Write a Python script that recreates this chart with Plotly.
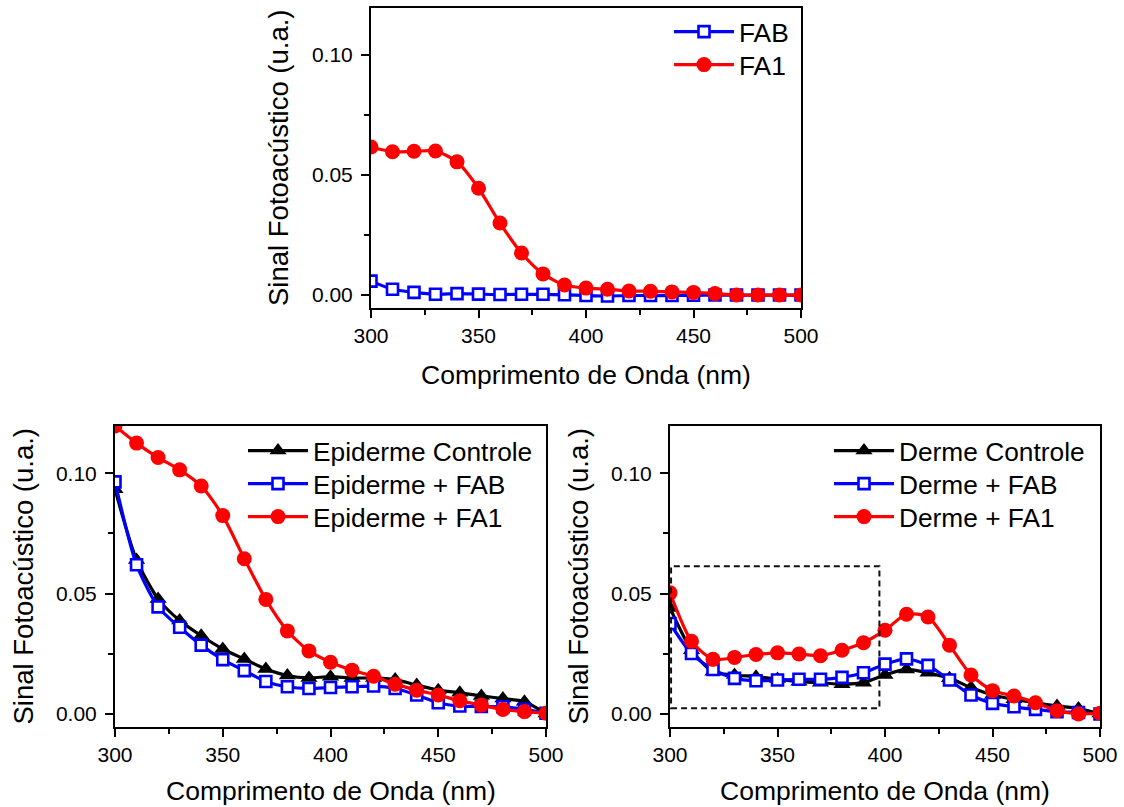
import plotly.graph_objects as go

# ---------------- data ----------------
wl = [300, 310, 320, 330, 340, 350, 360, 370, 380, 390, 400,
      410, 420, 430, 440, 450, 460, 470, 480, 490, 500]

# top panel
fab = [0.0058, 0.0024, 0.0011, 0.0003, 0.0006, 0.0004, 0.0002, 0.0003, 0.0003, 0.0001, -0.0002,
       -0.0004, -0.0002, -0.0002, -0.0002, -0.0001, 0.0, 0.0, 0.0, 0.0, 0.0]
fa1 = [0.0617, 0.0597, 0.0599, 0.0600, 0.0555, 0.0445, 0.0300, 0.0175, 0.0088, 0.0042, 0.0029,
       0.0024, 0.0017, 0.0016, 0.0013, 0.0011, 0.0006, 0.0, 0.0, 0.0, 0.0]

# bottom-left panel (epiderme)
epi_ctrl = [0.0933, 0.0640, 0.0478, 0.0388, 0.0325, 0.0270, 0.0228, 0.0187, 0.0160, 0.0150, 0.0155,
            0.0149, 0.0150, 0.0143, 0.0120, 0.0099, 0.0088, 0.0075, 0.0064, 0.0051, 0.0002]
epi_fab = [0.0964, 0.0620, 0.0445, 0.0360, 0.0286, 0.0226, 0.0180, 0.0135, 0.0113, 0.0106, 0.0110,
           0.0113, 0.0116, 0.0106, 0.0079, 0.0047, 0.0033, 0.0031, 0.0030, 0.0019, 0.0003]
epi_fa1 = [0.1196, 0.1125, 0.1065, 0.1014, 0.0947, 0.0824, 0.0645, 0.0476, 0.0345, 0.0262, 0.0215,
           0.0182, 0.0157, 0.0124, 0.0099, 0.0079, 0.0055, 0.0037, 0.0019, 0.0010, 0.0003]

# bottom-right panel (derme)
der_ctrl = [0.0440, 0.0265, 0.0175, 0.0162, 0.0155, 0.0145, 0.0134, 0.0130, 0.0124, 0.0130, 0.0162,
            0.0185, 0.0171, 0.0148, 0.0110, 0.0079, 0.0061, 0.0047, 0.0033, 0.0023, 0.0002]
der_fab = [0.0376, 0.0251, 0.0185, 0.0148, 0.0138, 0.0141, 0.0144, 0.0144, 0.0152, 0.0171, 0.0207,
           0.0229, 0.0202, 0.0141, 0.0079, 0.0044, 0.0030, 0.0019, 0.0010, 0.0006, 0.0000]
der_fa1 = [0.0503, 0.0302, 0.0227, 0.0235, 0.0247, 0.0254, 0.0249, 0.0242, 0.0265, 0.0296, 0.0348,
           0.0414, 0.0403, 0.0286, 0.0162, 0.0097, 0.0075, 0.0047, 0.0014, 0.0000, 0.0003]

x_ticks = [300, 350, 400, 450, 500]
y_ticks = [0.00, 0.05, 0.10]
y_tick_text = ["0.00", "0.05", "0.10"]
x_title = "Comprimento de Onda (nm)"
y_title = "Sinal Fotoacústico (u.a.)"

# ---------------- styling ----------------
W, H = 1124, 807
FONT = "Liberation Sans, Arial, sans-serif"
BLACK = "#000000"
BLUE = "#0000FF"
RED = "#FF0000"
LW = 3.2
SMOOTH = 0.7


def px_x(p):
    return p / W


def px_y(p):
    return 1 - p / H


fig = go.Figure()

legend_common = dict(
    xanchor="left", yanchor="top", bgcolor="rgba(0,0,0,0)", borderwidth=0,
    font=dict(family=FONT, size=26.3, color=BLACK), itemwidth=60,
    tracegroupgap=0, itemclick=False, itemdoubleclick=False,
)
legend_layouts = {}
legend_count = [0]


def add_series(x, y, name, color, symbol, xa, ya, size, leg_x, leg_y, open_=False):
    marker = dict(symbol=symbol, size=size, color=color)
    if open_:
        marker = dict(symbol="square", size=size, color="white",
                      line=dict(color=color, width=2.6))
    else:
        marker["line"] = dict(width=0)
    legend_count[0] += 1
    key = "legend" if legend_count[0] == 1 else "legend%d" % legend_count[0]
    legend_layouts[key] = dict(legend_common, x=px_x(leg_x), y=px_y(leg_y - 25))
    fig.add_trace(go.Scatter(
        x=x, y=y, name=name, mode="lines+markers",
        line=dict(color=color, width=LW, shape="spline", smoothing=SMOOTH),
        marker=marker, xaxis=xa, yaxis=ya, legend=key,
    ))


# top panel (legend rows centred at y = 33, 66)
add_series(wl, fab, "FAB", BLUE, "square", "x", "y", 11, 669, 33, open_=True)
add_series(wl, fa1, "FA1", RED, "circle", "x", "y", 15, 669, 66)
# bottom-left (rows at 452, 485, 518)
add_series(wl, epi_ctrl, "Epiderme Controle", BLACK, "triangle-up", "x2", "y2", 15, 243, 452)
add_series(wl, epi_fab, "Epiderme + FAB", BLUE, "square", "x2", "y2", 11, 243, 485, open_=True)
add_series(wl, epi_fa1, "Epiderme + FA1", RED, "circle", "x2", "y2", 15, 243, 518)
# bottom-right
add_series(wl, der_ctrl, "Derme Controle", BLACK, "triangle-up", "x3", "y3", 15, 829, 452)
add_series(wl, der_fab, "Derme + FAB", BLUE, "square", "x3", "y3", 11, 829, 485, open_=True)
add_series(wl, der_fa1, "Derme + FA1", RED, "circle", "x3", "y3", 15, 829, 518)

# panel geometry (pixels)
panels = {
    "": dict(x0=371, x1=801, y0=8, y1=308),
    "2": dict(x0=115, x1=546, y0=426, y1=727),
    "3": dict(x0=670, x1=1100, y0=426, y1=727),
}

axis_common = dict(
    showline=True, linecolor=BLACK, linewidth=2, mirror=True,
    ticks="outside", ticklen=8, tickwidth=2, tickcolor=BLACK,
    showgrid=False, zeroline=False, automargin=False,
    tickfont=dict(family=FONT, size=21, color=BLACK),
)

layout_axes = {}
for suf, g in panels.items():
    xa = dict(axis_common)
    xa.update(domain=[px_x(g["x0"]), px_x(g["x1"])], range=[300, 500],
              tickvals=x_ticks, anchor="y" + suf,
              minor=dict(ticks="outside", ticklen=5, tickwidth=2, tickcolor=BLACK, dtick=25))
    ya = dict(axis_common)
    ya.update(domain=[px_y(g["y1"]), px_y(g["y0"])], range=[-0.0054, 0.1196],
              tickvals=y_ticks, ticktext=y_tick_text, anchor="x" + suf,
              ticklabelstandoff=4,
              minor=dict(ticks="outside", ticklen=5, tickwidth=2, tickcolor=BLACK, dtick=0.025))
    layout_axes["xaxis" + suf] = xa
    layout_axes["yaxis" + suf] = ya

fig.update_layout(**layout_axes)

# axis titles as annotations
annotations = []
ytitle_x = {"": 278, "2": 23, "3": 578}
xtitle_y = {"": 375, "2": 791, "3": 791}
for suf, g in panels.items():
    annotations.append(dict(
        text=x_title, xref="paper", yref="paper",
        x=px_x((g["x0"] + g["x1"]) / 2), y=px_y(xtitle_y[suf]),
        xanchor="center", yanchor="middle", showarrow=False,
        font=dict(family=FONT, size=26.5, color=BLACK)))
    annotations.append(dict(
        text=y_title, xref="paper", yref="paper", textangle=-90,
        x=px_x(ytitle_x[suf]), y=px_y((g["y0"] + g["y1"]) / 2),
        xanchor="center", yanchor="middle", showarrow=False,
        font=dict(family=FONT, size=27.5, color=BLACK)))

# dashed box in the bottom-right panel
fig.add_shape(type="rect", xref="x3", yref="y3", x0=300.5, x1=397.4, y0=0.0024, y1=0.0614,
              line=dict(color="#111111", width=2, dash="6px,4px"), fillcolor="rgba(0,0,0,0)")

fig.update_layout(
    template="none",
    width=W, height=H, autosize=False,
    margin=dict(l=0, r=0, t=0, b=0),
    paper_bgcolor="white", plot_bgcolor="white",
    annotations=annotations,
    showlegend=True,
    **legend_layouts,
)

fig.write_html("out.html", config={"displayModeBar": False},
               post_script="document.body.style.margin='0';")
